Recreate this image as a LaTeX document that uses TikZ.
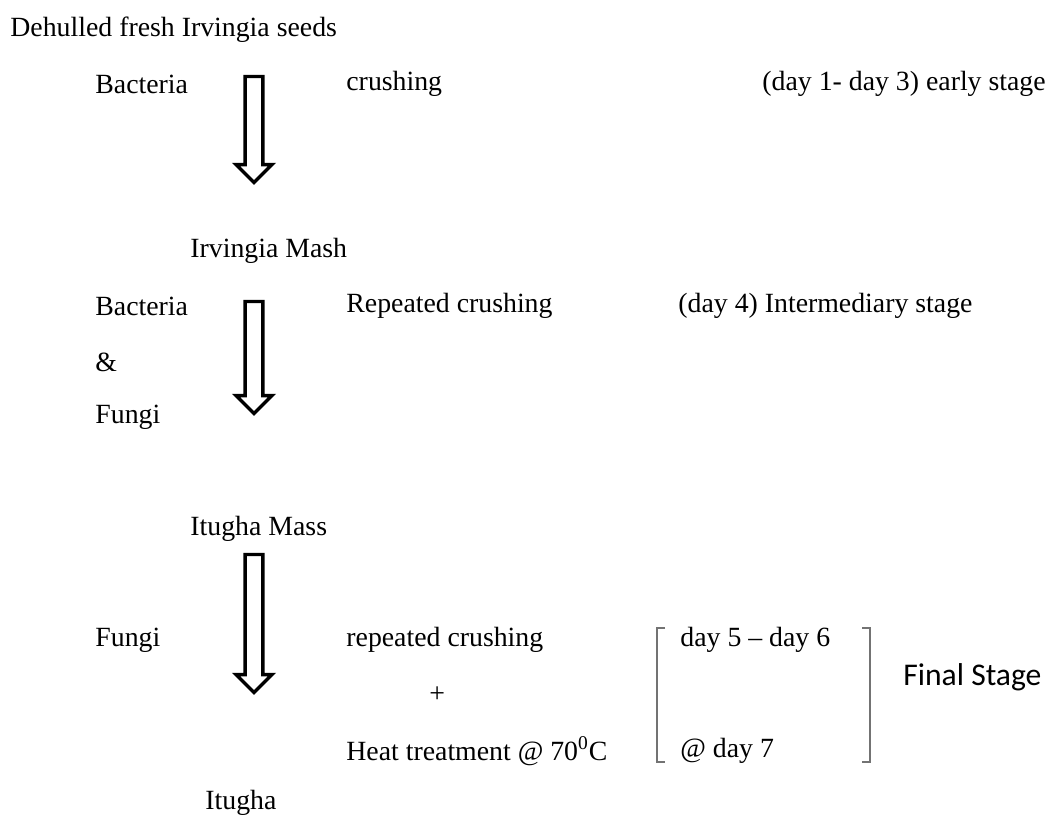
\documentclass[tikz,border=0pt]{standalone}
\usepackage{fontspec}
\setmainfont{Liberation Serif}
\newfontfamily\stagefont{Carlito}
\usetikzlibrary{shapes.arrows}

\tikzset{
  lbl/.style={anchor=west, inner sep=0pt, yshift=-1.5pt, font=\fontsize{13.9}{16}\selectfont},
  downarrow/.style={single arrow, draw, line width=1.7pt, rotate=-90,
    inner sep=3.6pt, minimum width=16.5pt, single arrow head extend=4.5pt},
  brack/.style={draw=black!55, line width=0.7pt}
}

\begin{document}
\begin{tikzpicture}[x=0.5pt,y=-0.5pt]
\useasboundingbox (0,0) rectangle (1048,815);
% top
\node[lbl] (seeds) at (10,27) {Dehulled fresh Irvingia seeds};
\node[lbl] (bac1) at (95,81) {Bacteria};
\node[lbl] (cr1) at (346,81) {crushing};
\node[lbl] (st1) at (762,81) {(day 1- day 3) early stage};
\node[downarrow, minimum height=53pt] (ar1) at (254,125) {};
\node[lbl] (mash) at (190,248) {Irvingia Mash};
% middle
\node[lbl] (bac2) at (95,303) {Bacteria};
\node[lbl] (amp) at (95,359) {\&};
\node[lbl] (fun1) at (95,414) {Fungi};
\node[lbl] (cr2) at (346,303) {Repeated crushing};
\node[lbl] (st2) at (678,303) {(day 4) Intermediary stage};
\node[downarrow, minimum height=56pt] (ar2) at (254,353) {};
\node[lbl] (mass) at (190,526) {Itugha Mass};
% bottom
\node[downarrow, minimum height=69pt] (ar3) at (254,619) {};
\node[lbl] (fun2) at (95,637) {Fungi};
\node[lbl] (cr3) at (346,637) {repeated crushing};
\node[lbl] (plus) at (429,692) {+};
\node[lbl] (heat) at (346,748) {Heat treatment @ 70\textsuperscript{0}C};
\node[lbl] (d56) at (680,637) {day 5 -- day 6};
\node[lbl] (d7) at (680,748) {@ day 7};
\draw[brack] (665,628) -- (657,628) -- (657,762) -- (665,762);
\draw[brack] (862,628) -- (870,628) -- (870,762) -- (862,762);
\node[lbl, font=\stagefont\fontsize{15.8}{18}\selectfont] (st3) at (903,674) {Final Stage};
\node[lbl] (itugha) at (205,800) {Itugha};
\end{tikzpicture}
\end{document}
